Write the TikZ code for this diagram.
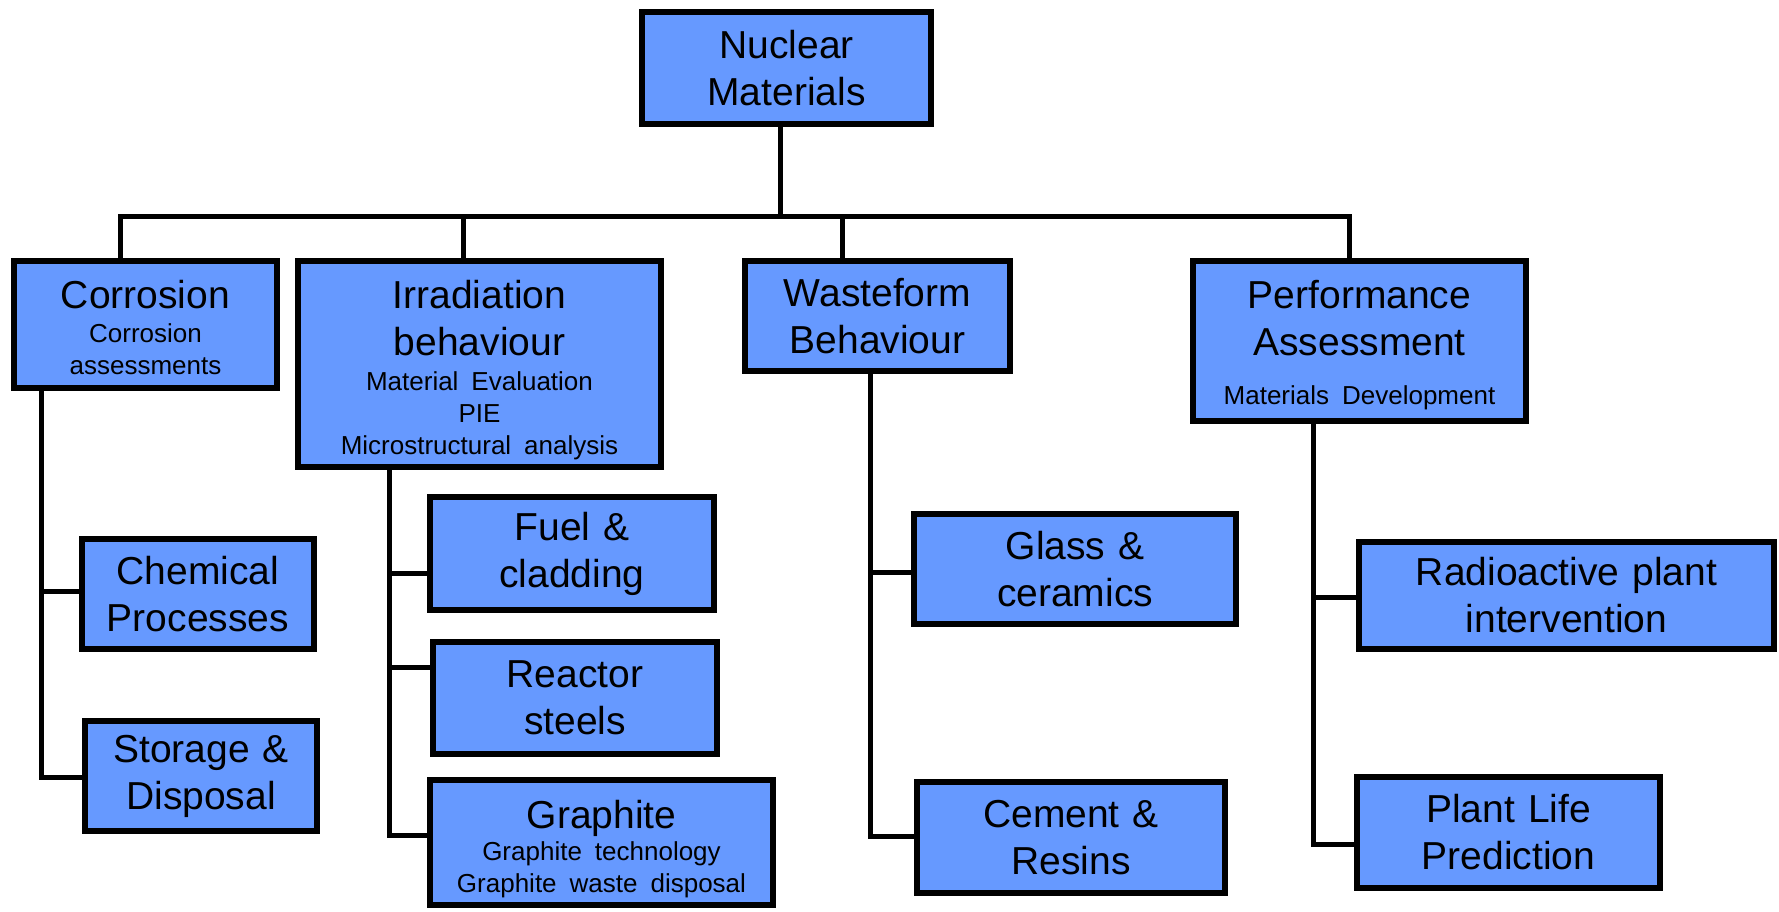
\documentclass[tikz,border=0pt]{standalone}
\usepackage{fontspec}
\setmainfont{Liberation Sans}
\usepackage{tikz}

\definecolor{boxblue}{HTML}{6699FF}
\newcommand{\boxbig}{\fontsize{39}{47}\selectfont}
\newcommand{\boxsmall}{\fontsize{26}{32}\selectfont}
\newcommand{\toplift}[1]{\rule{0pt}{#1}}
\tikzset{
    blk/.style 2 args={draw, line width=6pt, fill=boxblue, inner sep=0pt,
        text width=#1, minimum height=#2, font=\boxbig, execute at begin node=\centering},
    link/.style={line width=5pt},
}

\begin{document}
\begin{tikzpicture}[x=1pt, y=-1pt]
    \useasboundingbox (0, 0) rectangle (1779, 911);

    \node [blk={289}{112}] (nm) at (786.5, 68) {Nuclear\\Materials};

    \node [blk={263}{127}] (corr) at (145.5, 324.5) {\toplift{35pt}Corrosion\par\vspace{2pt}\boxsmall Corrosion\\assessments\par};
    \node [blk={363}{206}] (irr) at (479.5, 364) {\toplift{40pt}Irradiation\\behaviour\par\vspace{3pt}\boxsmall Material Evaluation\\PIE\\Microstructural analysis\par};
    \node [blk={265}{110}] (waste) at (877.5, 316) {Wasteform\\Behaviour};
    \node [blk={333}{160}] (perf) at (1359.5, 341) {\toplift{36pt}Performance\\Assessment\par\vspace{17pt}\boxsmall Materials Development\par};

    \node [blk={232}{110}] (chem) at (198, 594) {Chemical\\Processes};
    \node [blk={232}{110}] (stor) at (201, 776) {Storage \&\\Disposal};

    \node [blk={284}{113}] (fuel) at (572, 553.5) {Fuel \&\\cladding};
    \node [blk={284}{112}] (reac) at (575, 698) {Reactor\\steels};
    \node [blk={343}{125}] (graph) at (601.5, 842.5) {\toplift{42pt}Graphite\par\boxsmall Graphite technology\\Graphite waste disposal\par};

    \node [blk={322}{110}] (glass) at (1075, 569) {Glass \&\\ceramics};
    \node [blk={308}{111}] (cem) at (1071, 837.5) {Cement \&\\Resins};

    \node [blk={415}{107}] (radio) at (1566.5, 595.5) {Radioactive plant\\intervention};
    \node [blk={303}{111}] (plant) at (1508.5, 832.5) {Plant Life\\Prediction};

    \coordinate (b-corr) at (120, 216);
    \coordinate (b-irr) at (463, 216);
    \coordinate (b-waste) at (842, 216);
    \coordinate (b-perf) at (1349, 216);

    \draw [link] ([xshift=-6pt]nm.south) -- ([xshift=-6pt]nm.south |- b-corr);
    \draw [link] (b-corr |- corr.north) -- (b-corr) -- (b-perf) -- (b-perf |- perf.north);
    \draw [link] (b-irr) -- (b-irr |- irr.north);
    \draw [link] (b-waste) -- (b-waste |- waste.north);

    \coordinate (c1) at (41, 591);
    \coordinate (c2) at (41, 777);
    \draw [link] (c1 |- corr.south) -- (c2) -- (c2 -| stor.west);
    \draw [link] (c1) -- (c1 -| chem.west);

    \coordinate (i1) at (389, 573);
    \coordinate (i2) at (389, 667);
    \coordinate (i3) at (389, 835);
    \draw [link] (i1 |- irr.south) -- (i3) -- (i3 -| graph.west);
    \draw [link] (i1) -- (i1 -| fuel.west);
    \draw [link] (i2) -- (i2 -| reac.west);

    \coordinate (w1) at (870, 572);
    \coordinate (w2) at (870, 836);
    \draw [link] (w1 |- waste.south) -- (w2) -- (w2 -| cem.west);
    \draw [link] (w1) -- (w1 -| glass.west);

    \coordinate (p1) at (1313, 597);
    \coordinate (p2) at (1313, 844);
    \draw [link] (p1 |- perf.south) -- (p2) -- (p2 -| plant.west);
    \draw [link] (p1) -- (p1 -| radio.west);
\end{tikzpicture}
\end{document}
